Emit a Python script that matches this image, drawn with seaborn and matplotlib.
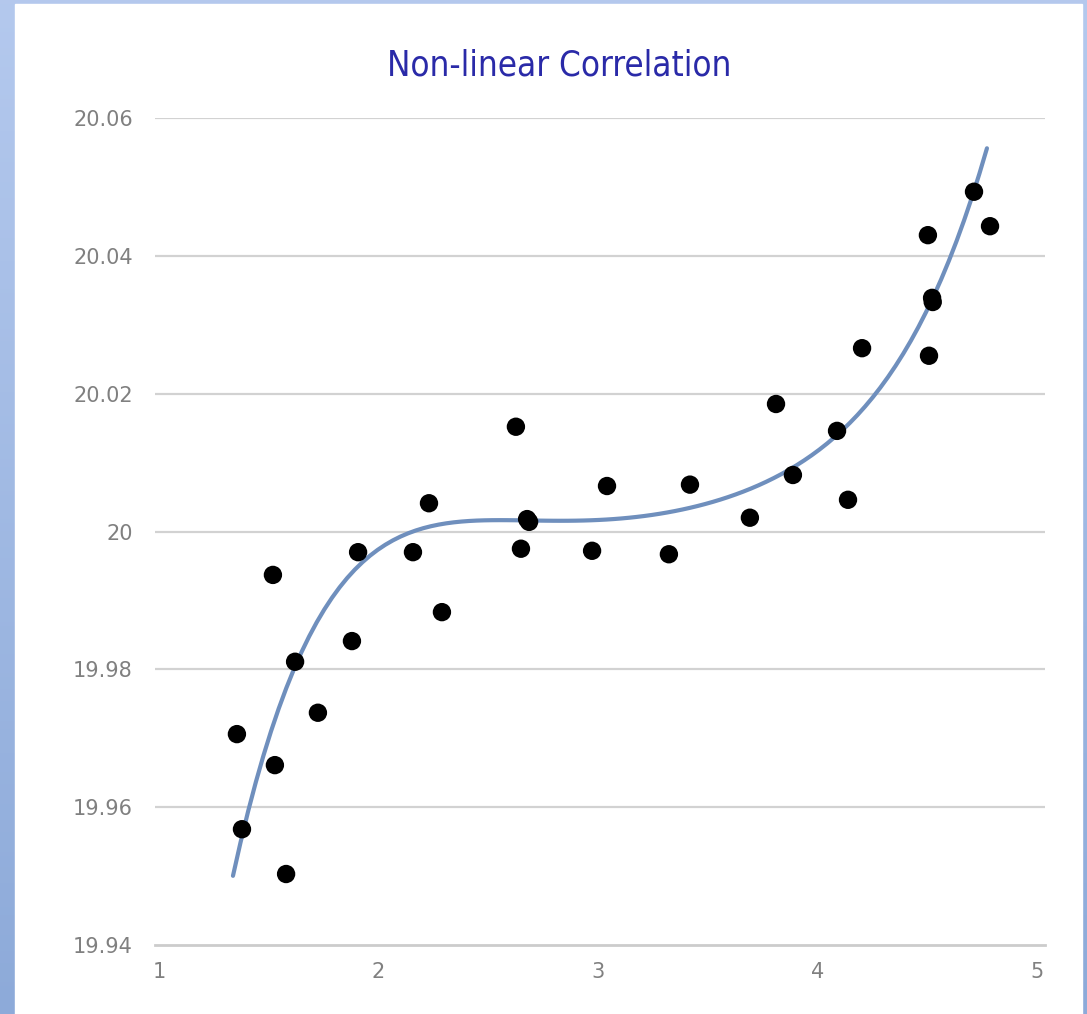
import numpy as np
import pandas as pd
import matplotlib
matplotlib.use("Agg")
import matplotlib.pyplot as plt
import seaborn as sns
from matplotlib.patches import Rectangle

# ---- data ----
x_vals = [1.355, 1.378, 1.519, 1.528, 1.579, 1.620, 1.724, 1.879, 1.907, 2.157,
          2.230, 2.289, 2.626, 2.649, 2.677, 2.686, 2.973, 3.041, 3.323, 3.419,
          3.692, 3.811, 3.888, 4.089, 4.139, 4.203, 4.503, 4.522, 4.525, 4.508,
          4.713, 4.786]
y_vals = [19.9706, 19.9568, 19.9937, 19.9661, 19.9503, 19.9811, 19.9737, 19.9841, 19.9970, 19.9970,
          20.0041, 19.9883, 20.0152, 19.9975, 20.0018, 20.0014, 19.9972, 20.0066, 19.9967, 20.0068,
          20.0020, 20.0185, 20.0082, 20.0146, 20.0046, 20.0266, 20.0430, 20.0339, 20.0333, 20.0255,
          20.0493, 20.0443]
# trendline positions
trend_x = [1.337, 1.346, 1.383, 1.424, 1.474, 1.551, 1.620, 1.702, 1.811, 1.948,
           2.112, 2.280, 2.462, 2.681, 2.918, 3.146, 3.314, 3.497, 3.692, 3.893,
           4.089, 4.271, 4.408, 4.522, 4.617, 4.713, 4.772]
trend_y = [19.9495, 19.9506, 19.9567, 19.9621, 19.9679, 19.9745, 19.9809, 19.9867, 19.9915, 19.9954,
           19.9988, 20.0005, 20.0012, 20.0021, 20.0024, 20.0025, 20.0031, 20.0041, 20.0051, 20.0082,
           20.0146, 20.0205, 20.0274, 20.0336, 20.0408, 20.0493, 20.0554]
x_ticks = [1, 2, 3, 4, 5]
y_ticks = [19.94, 19.96, 19.98, 20.00, 20.02, 20.04, 20.06]
y_tick_labels = ["19.94", "19.96", "19.98", "20", "20.02", "20.04", "20.06"]
title = "Non-linear Correlation"

df = pd.DataFrame({"x": x_vals, "y": y_vals})
trend = pd.DataFrame({"x": trend_x, "y": trend_y})

sns.set_theme(style="white")
plt.rcParams["font.family"] = ["DejaVu Sans"]

W, H = 1087, 1014
fig = plt.figure(figsize=(W / 100, H / 100), dpi=100)

# gradient blue background with white panel
bg = fig.add_axes([0, 0, 1, 1], zorder=-10)
grad = np.linspace(0, 1, 256).reshape(-1, 1)
top = np.array([0.706, 0.788, 0.933])
bot = np.array([0.553, 0.667, 0.851])
img = top[None, None, :] * (1 - grad[:, :, None]) + bot[None, None, :] * grad[:, :, None]
bg.imshow(img, aspect="auto", extent=[0, 1, 0, 1], origin="upper")
bg.add_patch(Rectangle((15 / W, 0), (1082 - 15) / W, (H - 4) / H, color="white", zorder=5))
bg.set_xlim(0, 1)
bg.set_ylim(0, 1)
bg.axis("off")

# main axes
left_px, right_px = 155, 1045
x0 = 1 - 4 / 219.5
x1 = 5 + 8 / 219.5
ax = fig.add_axes([left_px / W, 1 - 945 / H, (right_px - left_px) / W, (945 - 118) / H])
ax.set_facecolor("none")

# smooth polynomial trendline through the read-off trend positions
sns.regplot(data=trend, x="x", y="y", ax=ax, order=5, ci=None, scatter=False, truncate=True,
            line_kws={"color": "#6f8fbd", "linewidth": 3.0, "zorder": 3})
sns.scatterplot(data=df, x="x", y="y", ax=ax, color="black", s=175, edgecolor="none", zorder=4)

ax.set_xlim(x0, x1)
ax.set_ylim(19.94, 20.06)
ax.set_xticks(x_ticks)
ax.set_xticklabels([str(t) for t in x_ticks])
ax.set_yticks(y_ticks)
ax.set_yticklabels(y_tick_labels)
ax.set_xlabel("")
ax.set_ylabel("")
for s in ["top", "right", "left"]:
    ax.spines[s].set_visible(False)
ax.spines["bottom"].set_color("#cccccc")
ax.spines["bottom"].set_linewidth(2)
for yv in y_ticks[1:]:
    ax.axhline(yv, color="#d2d2d2", linewidth=1.6, zorder=1)
ax.tick_params(axis="y", length=0, pad=16, labelsize=15, labelcolor="#808080")
ax.tick_params(axis="x", length=6, width=1, color="#dddddd", pad=6, labelsize=15,
               labelcolor="#808080", direction="out")

fig.text(559 / W, 1 - 65 / H, title, ha="center", va="center", fontsize=25,
         color="#2a2aa8", fontstretch="condensed")

fig.savefig("out.png", dpi=100)
